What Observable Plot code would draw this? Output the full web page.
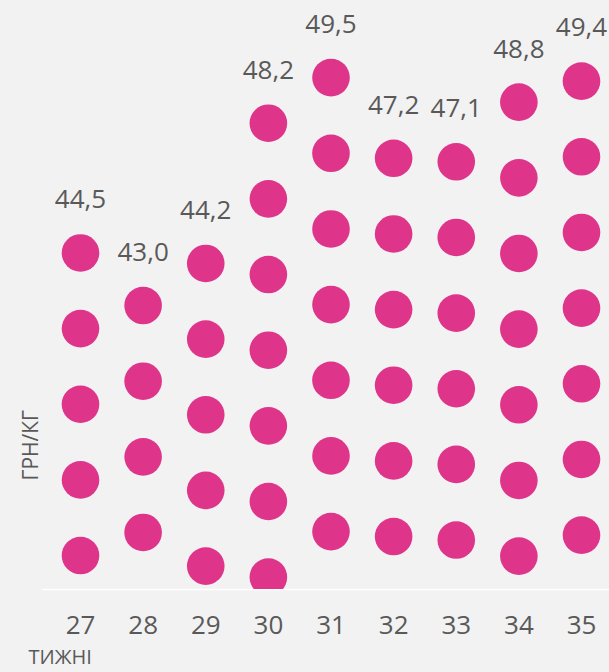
<!DOCTYPE html>
<html>
<head>
<meta charset="utf-8">
<script src="https://cdn.jsdelivr.net/npm/d3@7"></script>
<script src="https://cdn.jsdelivr.net/npm/@observablehq/plot@0.6"></script>
<style>
  html, body { margin: 0; padding: 0; background: #f2f2f2; }
</style>
</head>
<body>
<div id="chart"></div>
<script>
const weeks = [27, 28, 29, 30, 31, 32, 33, 34, 35];
const prices = [44.5, 43.0, 44.2, 48.2, 49.5, 47.2, 47.1, 48.8, 49.4];
const yLabel = "ГРН/КГ";
const xLabel = "ТИЖНІ";

const yMin = 34.9, yMax = 51.7;
const dotStep = 2.158; // value units between stacked dots

const dots = weeks.flatMap((w, i) => {
  const out = [];
  for (let v = prices[i]; v > yMin - 0.5; v -= dotStep) out.push({week: w, v});
  return out;
});

const fmt = v => v.toFixed(1).replace(".", ",");
const font = "'Open Sans', sans-serif";

const chart = Plot.plot({
  width: 609,
  height: 672,
  marginTop: 0,
  marginBottom: 83,
  marginLeft: 42,
  marginRight: 0,
  style: {background: "#f2f2f2", color: "#595959", fontFamily: font, fontWeight: 400},
  x: {domain: [27, 35], axis: null, insetLeft: 38, insetRight: 28},
  y: {domain: [yMin, yMax], axis: null},
  marks: [
    Plot.ruleY([yMin], {stroke: "#ffffff", strokeWidth: 1.5}),
    Plot.dot(dots, {x: "week", y: "v", r: 18.8, fill: "#de358b", stroke: null, clip: true}),
    Plot.text(weeks, {x: d => d, y: (d, i) => prices[i], text: (d, i) => fmt(prices[i]), dy: -53, fontSize: 26, fill: "#595959"}),
    Plot.axisX(weeks, {tickSize: 0, tickPadding: 26, fontSize: 26, label: null, tickFormat: d => String(d), fill: "#595959"}),
    Plot.text([yLabel], {frameAnchor: "bottom-left", lineAnchor: "middle", rotate: -90, textAnchor: "start", dx: -11, dy: -109, fontSize: 21, fill: "#595959"}),
    Plot.text([xLabel], {frameAnchor: "bottom-left", lineAnchor: "middle", textAnchor: "start", dx: -14, dy: 68, fontSize: 20, fill: "#595959"})
  ]
});
document.getElementById("chart").appendChild(chart);
</script>
</body>
</html>
